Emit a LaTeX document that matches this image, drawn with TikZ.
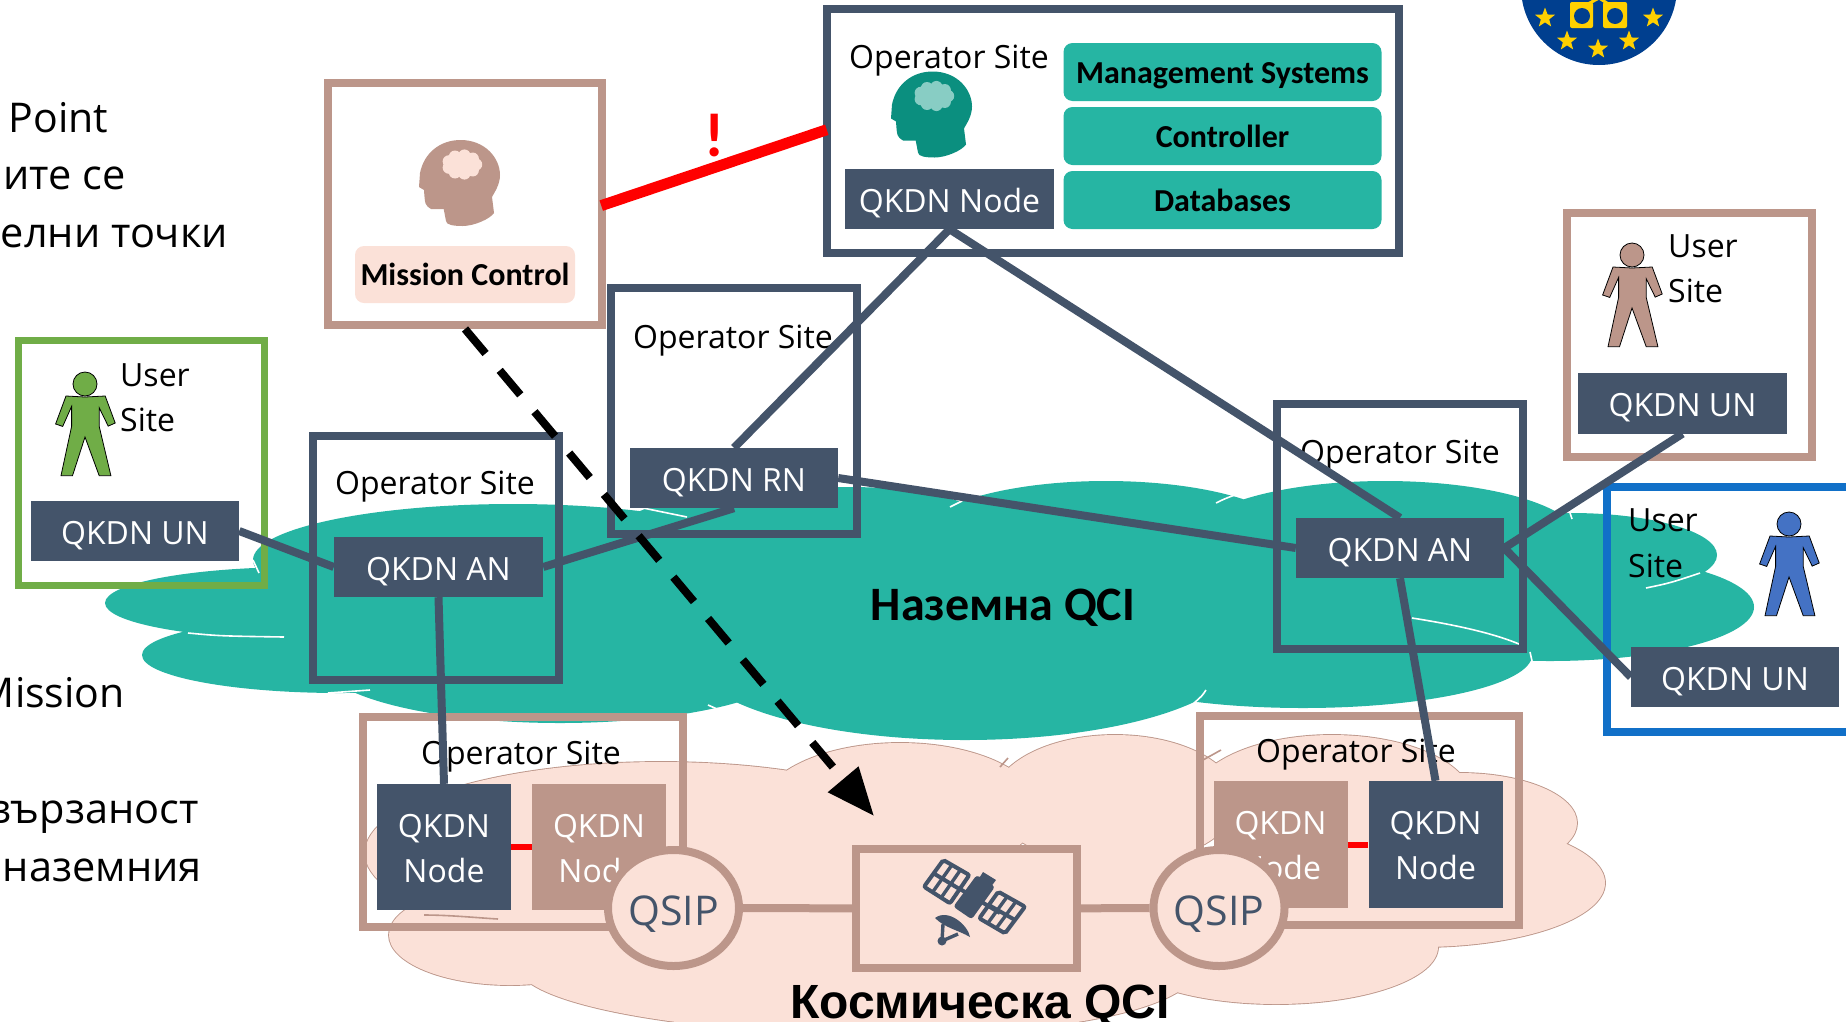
\documentclass[tikz,border=0pt]{standalone}
\usepackage{fontspec}
\setmainfont{Open Sans}
\newfontfamily\boldfont{Carlito}
\newfontfamily\arialfont{Liberation Sans}
\usetikzlibrary{positioning}
\usetikzlibrary{arrows.meta}
\usetikzlibrary{calc}
\usetikzlibrary{shapes.geometric}

\definecolor{navy}{HTML}{44546A}
\definecolor{rose}{HTML}{BC968A}
\definecolor{blush}{HTML}{FBE1D8}
\definecolor{teal1}{HTML}{26B5A3}
\definecolor{teal2}{HTML}{0B8F7F}
\definecolor{teal3}{HTML}{88CDC4}
\definecolor{leaf}{HTML}{70AD47}
\definecolor{usblue}{HTML}{1170C8}
\definecolor{person}{HTML}{4472C4}
\definecolor{eublue}{HTML}{003F8F}
\definecolor{eugold}{HTML}{FFD000}

\begin{document}
\begin{tikzpicture}[x=1pt,y=-1pt]

\tikzstyle{sitebox} = [draw=navy, line width=8pt, inner sep=0pt, rectangle]
\tikzstyle{rosebox} = [sitebox, draw=rose]
\tikzstyle{qkdnnode} = [fill=navy, text=white, inner sep=0pt, text height=26pt, text depth=0pt, font=\fontsize{32}{45}\selectfont, align=center]
\tikzstyle{rosenode} = [qkdnnode, fill=rose]
\tikzstyle{twoline} = [fill=navy, text=white, inner sep=0pt, font=\fontsize{32}{45}\selectfont, align=center]
\tikzstyle{qsipnode} = [ellipse, draw=rose, fill=blush, line width=8pt, inner sep=0pt, minimum width=131pt, minimum height=116pt, text=navy, text height=34pt, text depth=0pt, font=\fontsize{41}{45}\selectfont]
\tikzstyle{sitetext} = [anchor=base, inner sep=0pt, font=\fontsize{32}{45}\selectfont]
\tikzstyle{usertext} = [anchor=base west, inner sep=0pt, font=\fontsize{32}{45}\selectfont]
\tikzstyle{sidetext} = [anchor=base east, inner sep=0pt, font=\fontsize{41.5}{45}\selectfont]
\tikzstyle{latintext} = [sidetext, font=\fontsize{41}{45}\selectfont]
\tikzstyle{tealbox} = [fill=teal1, rounded corners=9pt, inner sep=0pt, minimum width=318pt, minimum height=58pt, text height=22pt, text depth=0pt, font=\boldfont\bfseries\fontsize{32}{36}\selectfont]
\tikzstyle{linkline} = [draw=navy, line width=8pt]
\tikzstyle{redline} = [draw=red, line width=6pt]
\tikzstyle{thinarc} = [white, line width=1.6pt]
\tikzstyle{eustar} = [star, star points=5, star point ratio=2.4, fill=eugold, inner sep=0pt, minimum size=21pt]

\def\tealcloud{
  (300,603) ellipse (195 and 36)
  (340,655) ellipse (198 and 38)
  (513,560) ellipse (260 and 56)
  (560,660) ellipse (240 and 63)
  (965,655) ellipse (275 and 85)
  (1303,655) ellipse (229 and 53)
  (1550,607) ellipse (204 and 54)
  (1571,555) ellipse (146 and 42)
  (1385,540) ellipse (195 and 59)
  (1106,540) ellipse (190 and 59)
  (780,550) ellipse (180 and 62)
  (850,540) ellipse (160 and 53)
}
\def\pinkcloud{
  (661,853) ellipse (296 and 91)
  (510,935) ellipse (121 and 50)
  (530,983) -- (530,850) -- (1193,850) -- (1193,980) .. controls (1120,1060) and (620,1045) .. (530,983) -- cycle
  (900,810) ellipse (140 and 67)
  (1115,800) ellipse (122 and 65)
  (1332,800) ellipse (140 and 65)
  (1460,823) ellipse (117 and 50)
  (1420,883) ellipse (185 and 64)
  (1276,947) ellipse (162 and 57)
}
\def\person#1#2#3{
  \begin{scope}[shift={(#1,#2)}]
    \draw [fill=#3, line width=0.8pt] (0,0) circle (12);
    \draw [fill=#3, line width=0.8pt] (-19,12) -- (-29.4,40) -- (-22.3,42.4) -- (-13.4,22.4) -- (-13.4,42.4) -- (-24,91.7) -- (-12.5,91.7) -- (0,53) -- (14.2,91.7) -- (25.9,91.7) -- (14.2,42.4) -- (14.2,23.7) -- (23.2,42.1) -- (30.2,39) -- (20.2,12) -- (0,13) -- cycle;
  \end{scope}
}
\def\headicon#1#2#3#4{
  \begin{scope}[shift={(#1,#2)}]
    \fill [#3] (0.6,-43) .. controls (25,-43) and (40,-25) .. (40,-8) .. controls (40,2) and (34,10) .. (32,14) -- (34,30) .. controls (30,36) and (14,43) .. (2.6,43) .. controls (-6,43) and (-14,42) .. (-14,38) -- (-16.3,26) -- (-29,26) .. controls (-35,22) .. (-36,7) -- (-41,4) -- (-40,-10) .. controls (-36,-30) and (-20,-43) .. (0.6,-43) -- cycle;
    \fill [#4] (2,-18.5) ellipse (14 and 10);
    \foreach \a in {0,40,...,320} {
      \fill [#4] ($(2,-18.5)+({14*cos(\a)},{9*sin(\a)})$) circle (6.2);
    }
  \end{scope}
}
\def\solarpanel#1#2#3#4{
  \draw [navy, fill=blush, line width=4pt, rounded corners=2pt] #1 -- #2 -- #3 -- #4 -- cycle;
  \draw [navy, line width=3.4pt] ($#1!0.33!#2$) -- ($#4!0.33!#3$);
  \draw [navy, line width=3.4pt] ($#1!0.66!#2$) -- ($#4!0.66!#3$);
  \draw [navy, line width=4pt] ($#1!0.5!#4$) -- ($#2!0.5!#3$);
}

\path [use as bounding box, clip] (0,0) rectangle (1846,1021);

\fill [eublue] (1599,-13) circle (78);
\node [eustar] (star1) at (1545,18) {};
\node [eustar] (star2) at (1567,41) {};
\node [eustar] (star3) at (1598,49) {};
\node [eustar] (star4) at (1629,41) {};
\node [eustar] (star5) at (1653,18) {};
\fill [eugold, rounded corners=2pt] (1570,2) rectangle (1593,28);
\fill [eugold, rounded corners=2pt] (1603,2) rectangle (1627,28);
\fill [eublue] (1582,16) circle (8);
\fill [eublue] (1615,16) circle (8);
\draw [eugold, line width=3pt] (1586,5) -- (1599,-2) -- (1610,5);

\fill [teal1] \tealcloud;
\fill [teal1] (600,560) -- (1500,560) -- (1500,650) -- (600,680) -- cycle;
\draw [rose, line width=1.8pt] \pinkcloud;
\fill [blush] \pinkcloud;
\fill [blush] (520,850) rectangle (1400,960);

\draw [thinarc] (1216,503) .. controls (1224,499) .. (1240,493);
\draw [thinarc] (950,507) -- (962,501);
\draw [thinarc] (1206,690) .. controls (1202,696) .. (1194,703);
\draw [thinarc] (1412,618) .. controls (1450,624) and (1490,632) .. (1519,644);
\draw [thinarc] (1530,652) -- (1532,661);
\draw [thinarc] (1570,513) -- (1572,519);
\draw [thinarc] (1646,588) .. controls (1670,583) .. (1700,573);
\draw [thinarc] (188,633) .. controls (220,636) .. (284,637);
\draw [thinarc] (328,693) -- (370,690);
\draw [thinarc] (253,560) -- (259,573);
\draw [thinarc] (643,508) -- (687,517);
\draw [thinarc] (708,705) -- (733,716);
\draw [rose, line width=1.6pt] (424,915) .. controls (450,915) and (480,918) .. (498,919);
\draw [rose, line width=1.6pt] (1000,767) -- (1008,758);
\draw [rose, line width=1.6pt] (1203,760) -- (1221,750);

\node [tealbox] (mgmt) at (1222.5,72) {Management Systems};
\node [tealbox] (ctrl) at (1222.5,136) {Controller};
\node [tealbox] (dbase) at (1222.5,200) {Databases};

\node [sitebox, minimum width=572pt, minimum height=244pt] (opTop) at (1113,131) {};
\node [rosebox, minimum width=274pt, minimum height=242pt] (missionBox) at (465,204) {};
\node [sitebox, minimum width=246pt, minimum height=246pt] (opRN) at (734,411) {};
\node [sitebox, minimum width=246pt, minimum height=244pt] (opLeft) at (435.5,558) {};
\node [sitebox, minimum width=246pt, minimum height=245pt] (opRight) at (1400,526.5) {};
\node [rosebox, minimum width=320pt, minimum height=210pt] (opGndL) at (522.5,822) {};
\node [rosebox, minimum width=319pt, minimum height=209pt] (opGndR) at (1359.5,820) {};
\node [rosebox, minimum width=245pt, minimum height=244pt] (userTop) at (1689.5,335) {};
\node [sitebox, draw=leaf, line width=7pt, minimum width=246pt, minimum height=245pt] (userGreen) at (141.5,463) {};
\node [sitebox, draw=usblue, minimum width=300pt, minimum height=245pt] (userBlue) at (1757,609.5) {};
\node [rosebox, minimum width=221pt, minimum height=119pt] (satBox) at (966.5,908.5) {};

\node [latintext] (side1) at (108.5,132) {Point};
\node [sidetext] (side2) at (126,189) {ите се};
\node [sidetext] (side3) at (228,247) {делни точки};
\node [latintext] (side4) at (125,707) {Mission};
\node [sidetext] (side5) at (199,823) {вързаност};
\node [sidetext] (side6) at (202,881) {наземния};

\node [fill=blush, rounded corners=9pt, inner sep=0pt, minimum width=220pt, minimum height=57pt, text height=21pt, text depth=0pt, font=\boldfont\bfseries\fontsize{32}{36}\selectfont] (missionCtl) at (465,274.5) {Mission Control};
\headicon{460}{183}{rose}{blush}
\headicon{932}{114.5}{teal2}{teal3}

\node [sitetext] (txtTop) at (949,68) {Operator Site};
\node [sitetext] (txtRN) at (733,348) {Operator Site};
\node [sitetext] (txtLeft) at (435,494) {Operator Site};
\node [sitetext] (txtRight) at (1400,463) {Operator Site};
\node [sitetext] (txtGndL) at (521,764) {Operator Site};
\node [sitetext] (txtGndR) at (1356,762) {Operator Site};

\node [usertext] (user1) at (120,386) {User};
\node [usertext] (site1) at (120,431) {Site};
\node [usertext] (user2) at (1668,257) {User};
\node [usertext] (site2) at (1668,302) {Site};
\node [usertext] (user3) at (1628,531) {User};
\node [usertext] (site3) at (1628,577) {Site};

\person{85}{384}{leaf}
\person{1632}{255}{rose}
\person{1789}{524}{person}

\node [qkdnnode, minimum width=209pt, minimum height=60pt] (nodeTop) at (949.5,199) {QKDN Node};
\node [qkdnnode, minimum width=208pt, minimum height=60pt] (unGreen) at (135,531) {QKDN UN};
\node [qkdnnode, minimum width=209pt, minimum height=60pt] (anLeft) at (438.5,567) {QKDN AN};
\node [qkdnnode, minimum width=208pt, minimum height=60pt] (rnMid) at (734,478) {QKDN RN};
\node [qkdnnode, minimum width=208pt, minimum height=60pt] (anRight) at (1400,548) {QKDN AN};
\node [qkdnnode, minimum width=209pt, minimum height=61pt] (unTop) at (1682.5,403) {QKDN UN};
\node [qkdnnode, minimum width=208pt, minimum height=60pt] (unBlue) at (1735,677) {QKDN UN};
\node [twoline, minimum width=134pt, minimum height=126pt] (gndL) at (444,847) {\rule{0pt}{26pt}QKDN\\Node};
\node [twoline, fill=rose, minimum width=134pt, minimum height=126pt] (gndLb) at (599,847) {\rule{0pt}{26pt}QKDN\\Node};
\node [twoline, fill=rose, minimum width=134pt, minimum height=127pt] (gndRb) at (1280.5,844.5) {\rule{0pt}{26pt}QKDN\\Node};
\node [twoline, minimum width=134pt, minimum height=127pt] (gndR) at (1435.5,844.5) {\rule{0pt}{26pt}QKDN\\Node};

\draw [linkline] (nodeTop.south) edge (rnMid.north);
\draw [linkline] (nodeTop.south) edge (anRight.north);
\draw [linkline] (unGreen.east) edge (anLeft.west);
\draw [linkline] (anLeft.east) edge (rnMid.south);
\draw [linkline] (rnMid.east) edge (anRight.west);
\draw [linkline] (anLeft.south) edge (gndL.north);
\draw [linkline] (anRight.south) edge (gndR.north);
\draw [linkline] (anRight.east) edge (unTop.south);
\draw [linkline] (anRight.east) edge (unBlue.west);
\draw [redline] (gndL) edge (gndLb);
\draw [redline] (gndRb) edge (gndR);
\draw [draw=red, line width=11pt, shorten <=-5pt, shorten >=-4pt] (missionBox.east) edge (opTop.west);
\node [text=red, inner sep=0pt, font=\boldfont\bfseries\fontsize{62}{64}\selectfont] (warn) at (715,136) {!};

\node [qsipnode] (qsipL) at (673.5,908) {QSIP};
\node [qsipnode] (qsipR) at (1219,908) {QSIP};
\draw [rose, line width=8pt] (qsipL) edge (satBox);
\draw [rose, line width=8pt] (satBox) edge (qsipR);

\fill [navy, rounded corners=3pt] (976.7,875) -- (995,886.7) -- (971.7,919.3) -- (953.3,906.7) -- cycle;
\fill [navy] (983,872) -- (996,880) -- (990,888) -- (978,880) -- cycle;
\solarpanel{(943.3,860)}{(969.3,875)}{(950,903.3)}{(924,886.7)}
\solarpanel{(998.3,891.7)}{(1025,906.7)}{(1005,933.3)}{(979.3,918.3)}
\draw [navy, line width=4pt] (960,889) -- (1000,913);
\fill [navy] (935,918) .. controls (948,908) and (968,925) .. (970,937) .. controls (958,930) and (945,928) .. (935,918) -- cycle;
\draw [navy, line width=3.4pt] (943,924) -- (942,941) -- (958,934);
\fill [navy] (942,941) circle (4.5);

\coordinate (dashEnd) at (874,816);
\draw [black, line width=8pt, dash pattern=on 32pt off 22pt, -{Triangle[length=48pt,width=38pt]}] (missionBox.south) -- (dashEnd);

\node [anchor=base, inner sep=0pt, font=\boldfont\bfseries\fontsize{48}{50}\selectfont] (groundQCI) at (1003,620) {Наземна QCI};
\node [anchor=base, inner sep=0pt, font=\arialfont\bfseries\fontsize{48}{50}\selectfont] (spaceQCI) at (980,1018) {Космическа QCI};

\end{tikzpicture}
\end{document}
